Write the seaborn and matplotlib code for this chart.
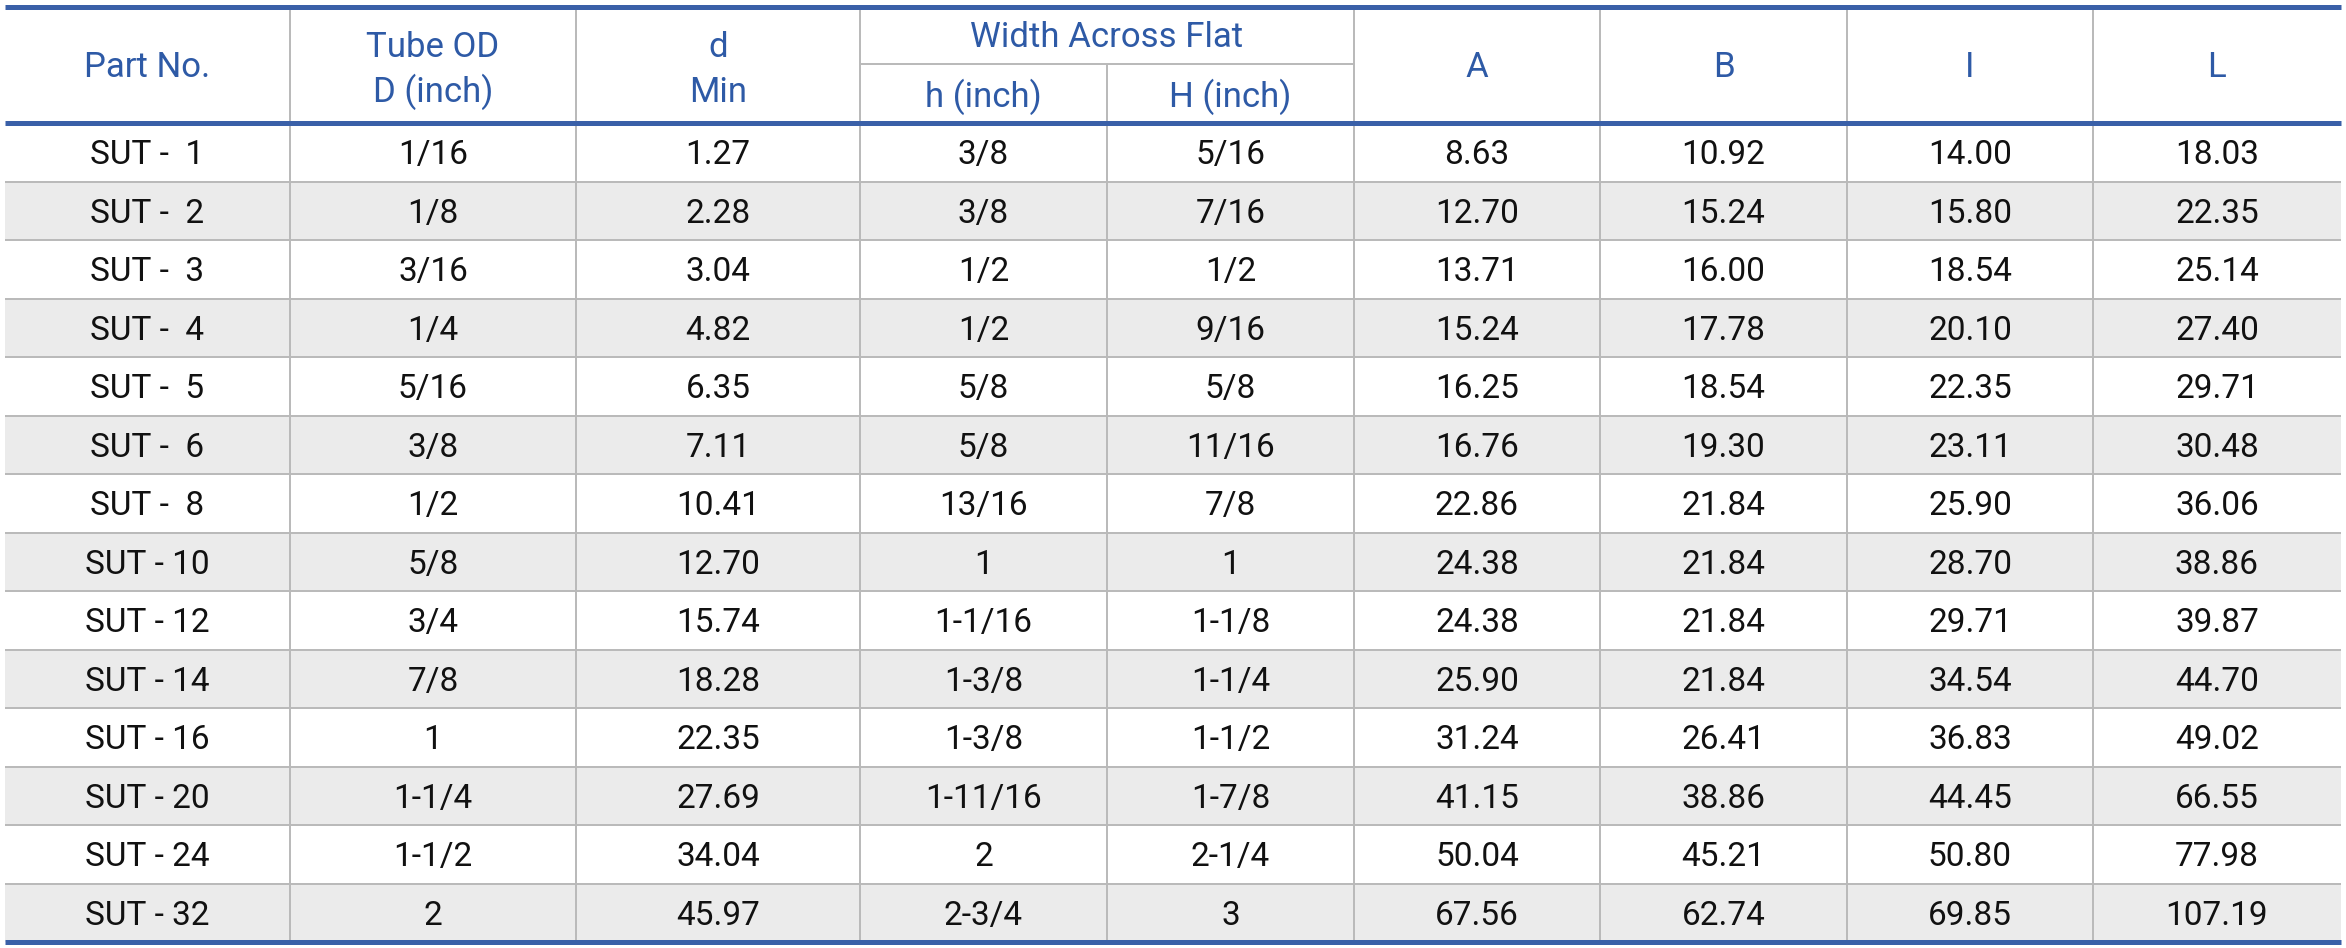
import matplotlib
matplotlib.use("Agg")
import matplotlib.pyplot as plt
from matplotlib.patches import Rectangle
import seaborn as sns
import pandas as pd

# table data
part_no = ["SUT -  1", "SUT -  2", "SUT -  3", "SUT -  4", "SUT -  5", "SUT -  6", "SUT -  8",
           "SUT - 10", "SUT - 12", "SUT - 14", "SUT - 16", "SUT - 20", "SUT - 24", "SUT - 32"]
tube_od = ["1/16", "1/8", "3/16", "1/4", "5/16", "3/8", "1/2", "5/8", "3/4", "7/8", "1",
           "1-1/4", "1-1/2", "2"]
d_min = [1.27, 2.28, 3.04, 4.82, 6.35, 7.11, 10.41, 12.70, 15.74, 18.28, 22.35, 27.69, 34.04, 45.97]
h_inch = ["3/8", "3/8", "1/2", "1/2", "5/8", "5/8", "13/16", "1", "1-1/16", "1-3/8", "1-3/8",
          "1-11/16", "2", "2-3/4"]
H_inch = ["5/16", "7/16", "1/2", "9/16", "5/8", "11/16", "7/8", "1", "1-1/8", "1-1/4", "1-1/2",
          "1-7/8", "2-1/4", "3"]
A = [8.63, 12.70, 13.71, 15.24, 16.25, 16.76, 22.86, 24.38, 24.38, 25.90, 31.24, 41.15, 50.04, 67.56]
B = [10.92, 15.24, 16.00, 17.78, 18.54, 19.30, 21.84, 21.84, 21.84, 21.84, 26.41, 38.86, 45.21, 62.74]
I = [14.00, 15.80, 18.54, 20.10, 22.35, 23.11, 25.90, 28.70, 29.71, 34.54, 36.83, 44.45, 50.80, 69.85]
L = [18.03, 22.35, 25.14, 27.40, 29.71, 30.48, 36.06, 38.86, 39.87, 44.70, 49.02, 66.55, 77.98, 107.19]

df = pd.DataFrame({"Part No.": part_no, "D": tube_od, "d": d_min, "h": h_inch, "H": H_inch,
                   "A": A, "B": B, "I": I, "L": L})
for c in ["d", "A", "B", "I", "L"]:
    df[c] = df[c].map(lambda v: "%.2f" % v)

sns.set_theme(style="white")
plt.rcParams['font.family'] = ['Roboto', 'DejaVu Sans']

blue = "#3a60a8"
head_col = "#2e5aa6"
grid_col = "#b9b9b9"
stripe = "#ebebeb"

# layout in pixels
col_x = [5, 290, 576, 860, 1107, 1354, 1600, 1847, 2093, 2341]
top, sub_y, head_bot, bot = 7, 64, 123, 942
row_h = (bot - head_bot) / len(df)

fig = plt.figure(figsize=(23.46, 9.48), dpi=100)
ax = fig.add_axes([0, 0, 1, 1])
ax.set_xlim(0, 2346)
ax.set_ylim(948, 0)
ax.axis("off")

# striped rows
for i in range(len(df)):
    y0 = head_bot + i * row_h
    if i % 2 == 1:
        ax.add_patch(Rectangle((col_x[0], y0), col_x[-1] - col_x[0], row_h,
                               facecolor=stripe, edgecolor="none", zorder=0))
    if i > 0:
        ax.hlines(y0, col_x[0], col_x[-1], color=grid_col, lw=1.4, zorder=1)
    yc = y0 + row_h / 2 + 3
    for j, c in enumerate(df.columns):
        xc = (col_x[j] + col_x[j + 1]) / 2
        ax.text(xc, yc, df[c].iloc[i], ha="center", va="center", fontsize=24,
                color="#111111")

# vertical grid lines
for j in range(1, len(col_x) - 1):
    y_start = sub_y if j == 4 else top
    ax.vlines(col_x[j], y_start, bot, color=grid_col, lw=1.4, zorder=1)
ax.hlines(sub_y, col_x[3], col_x[5], color=grid_col, lw=1.4, zorder=1)

# thick blue rules
for y in [top, head_bot, bot]:
    ax.hlines(y, col_x[0], col_x[-1], color=blue, lw=3.6, zorder=3)

# header text
mid = (top + head_bot) / 2 + 2
hk = dict(ha="center", va="center", fontsize=25, color=head_col)
def cx(j):
    return (col_x[j] + col_x[j + 1]) / 2
ax.text(cx(0), mid, "Part No.", **hk)
ax.text(cx(1), 47, "Tube OD", **hk)
ax.text(cx(1), 92, "D (inch)", **hk)
ax.text(cx(2), 47, "d", **hk)
ax.text(cx(2), 92, "Min", **hk)
ax.text((col_x[3] + col_x[5]) / 2, 37, "Width Across Flat", **hk)
ax.text(cx(3), 97, "h (inch)", **hk)
ax.text(cx(4), 97, "H (inch)", **hk)
for j, lab in zip(range(5, 9), ["A", "B", "I", "L"]):
    ax.text(cx(j), mid, lab, **hk)

fig.savefig("out.png", dpi=100)
